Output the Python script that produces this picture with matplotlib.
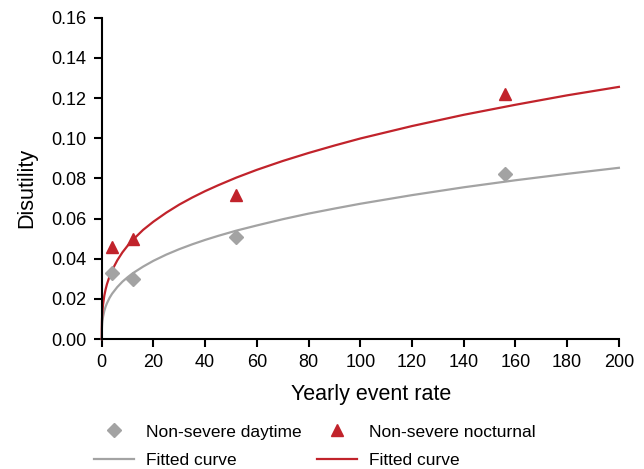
import matplotlib
matplotlib.use('Agg')
import matplotlib.pyplot as plt

plt.rcParams['font.family'] = ['Liberation Sans', 'DejaVu Sans']

# observed points
rate_obs = [4, 12, 52, 156]
day_obs = [0.033, 0.030, 0.051, 0.082]
night_obs = [0.046, 0.050, 0.072, 0.122]

# fitted curves
rate_fit = [0, 0.05, 0.1, 0.25, 0.5, 1, 1.5, 2, 3, 4, 6, 8, 10, 12, 16, 20, 25,
            30, 35, 40, 45, 52, 60, 70, 80, 90, 100, 120, 140, 160, 180, 200]
day_fit = [0, 0.0051, 0.0064, 0.0088, 0.0111, 0.0141, 0.0162, 0.0178, 0.0205,
           0.0226, 0.0259, 0.0286, 0.0308, 0.0328, 0.0361, 0.0390, 0.0421,
           0.0448, 0.0472, 0.0494, 0.0514, 0.0540, 0.0566, 0.0597, 0.0625,
           0.0650, 0.0674, 0.0717, 0.0756, 0.0791, 0.0823, 0.0853]
night_fit = [0, 0.0080, 0.0101, 0.0137, 0.0172, 0.0217, 0.0248, 0.0273, 0.0312,
             0.0343, 0.0392, 0.0432, 0.0465, 0.0494, 0.0544, 0.0585, 0.0630,
             0.0670, 0.0705, 0.0737, 0.0766, 0.0804, 0.0843, 0.0887, 0.0927,
             0.0964, 0.0999, 0.1061, 0.1117, 0.1167, 0.1214, 0.1256]

gray = '#a3a3a3'
red = '#c1232b'

fig = plt.figure(figsize=(6.44, 4.69), dpi=100)
ax = fig.add_axes([0.158, 0.277, 0.803, 0.685])

l1, = ax.plot(rate_fit, day_fit, color=gray, lw=1.6, clip_on=False)
l2, = ax.plot(rate_fit, night_fit, color=red, lw=1.6, clip_on=False)
p1, = ax.plot(rate_obs, day_obs, 'D', color=gray, ms=7, ls='none', clip_on=False)
p2, = ax.plot(rate_obs, night_obs, '^', color=red, ms=9, ls='none', clip_on=False)

ax.set_xlim(0, 200)
ax.set_ylim(0, 0.16)
ax.set_xticks(range(0, 201, 20))
ax.set_yticks([i * 0.02 for i in range(9)])
ax.set_yticklabels([f'{i * 0.02:.2f}' for i in range(9)])
for s in ['top', 'right']:
    ax.spines[s].set_visible(False)
for s in ['left', 'bottom']:
    ax.spines[s].set_linewidth(1.5)
ax.tick_params(width=1.5, length=6, labelsize=13, pad=5)
ax.set_xlabel('Yearly event rate', fontsize=15.5)
ax.set_ylabel('Disutility', fontsize=15.5)
ax.xaxis.set_label_coords(0.52, -0.14)
ax.yaxis.set_label_coords(-0.125, 0.47)

fig.legend([p1, l1, p2, l2],
           ['Non-severe daytime', 'Fitted curve', 'Non-severe nocturnal', 'Fitted curve'],
           ncol=2, loc='upper left', bbox_to_anchor=(0.135, 0.11), frameon=False,
           fontsize=12.5, handlelength=2.3, handletextpad=0.7, columnspacing=0.9,
           labelspacing=0.75, borderaxespad=0)

fig.savefig('out.png', dpi=100)
